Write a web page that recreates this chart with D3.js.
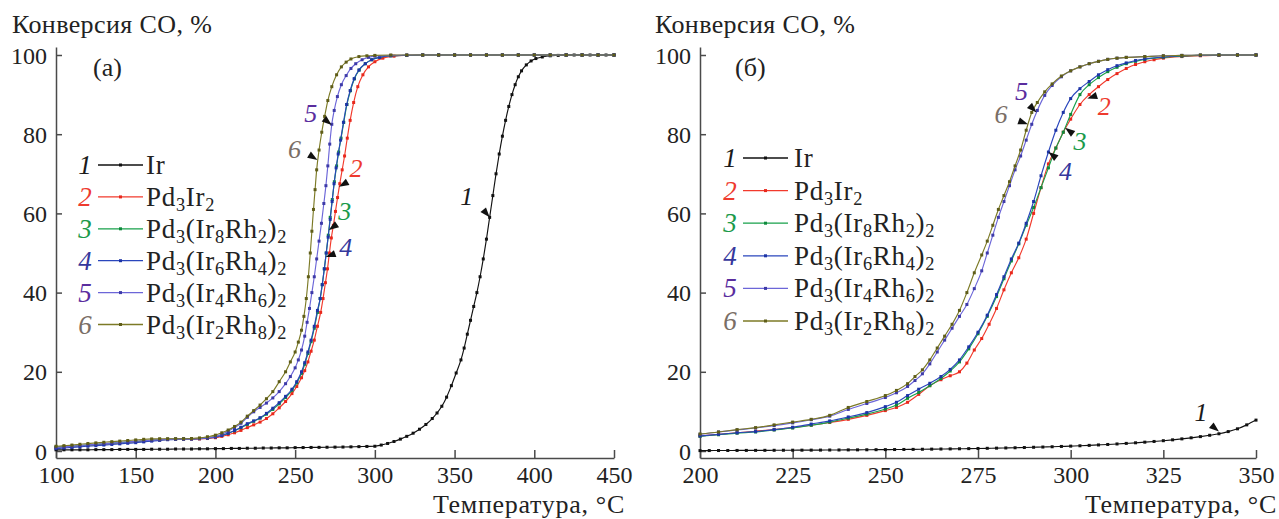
<!DOCTYPE html>
<html><head><meta charset="utf-8">
<script src="https://cdn.jsdelivr.net/npm/d3@7"></script>
<style>
body{margin:0;background:#fff}svg{display:block}
svg text{font-family:"Liberation Serif","Tinos","DejaVu Serif","Noto Serif","FreeSerif","Times New Roman",Times,serif !important;}
</style>
</head><body>
<svg id="c" width="1279" height="519"></svg>
<script>
// ---------- data ----------
const xTicksA = [100,150,200,250,300,350,400,450];
const xTicksB = [200,225,250,275,300,325,350];
const yTicks = [0,20,40,60,80,100];
const seriesNums = ["1","2","3","4","5","6"];
const legendLabels = ["Ir","Pd_3Ir_2","Pd_3(Ir_8Rh_2)_2","Pd_3(Ir_6Rh_4)_2","Pd_3(Ir_4Rh_6)_2","Pd_3(Ir_2Rh_8)_2"];
const yTitle = "Конверсия CO, %";
const xTitle = "Температура, °C";
const panelNames = ["(а)","(б)"];

// panel (a): [T, conversion %]
const a1 = [[100,0.3],[105,0.3],[110,0.3],[115,0.3],[120,0.3],[125,0.35],[130,0.35],[135,0.35],[140,0.4],[145,0.4],[150,0.4],[155,0.4],[160,0.45],[165,0.45],[170,0.45],[175,0.5],[180,0.5],[185,0.5],[190,0.55],[195,0.55],[200,0.6],[205,0.6],[210,0.65],[215,0.65],[220,0.7],[225,0.7],[230,0.75],[235,0.75],[240,0.8],[245,0.8],[250,0.85],[255,0.87],[260,0.9],[265,0.92],[270,0.95],[275,0.98],[280,1.0],[285,1.05],[290,1.1],[295,1.15],[300,1.2],[304,1.5],[308,1.9],[312,2.4],[316,3.0],[320,3.7],[324,4.5],[328,5.5],[332,6.7],[336,8.2],[339,9.6],[342,11.3],[345,13.6],[348,16.5],[351,19.7],[354,23],[356,26],[358,29.5],[360,33],[362,36.5],[364,40],[366,44],[368,48.5],[370,53.5],[372,59],[374,64.5],[376,70],[378,75],[380,79.5],[382,83.5],[384,87],[386,90],[388,92.5],[390,94.5],[392,96],[395,97.5],[398,98.5],[401,99.1],[405,99.5],[410,99.8],[415,99.9],[420,100],[425,100],[430,100],[435,100],[440,100],[445,100],[450,100]];
const a2 = [[100,0.9],[105,1.0],[110,1.15],[115,1.3],[120,1.45],[125,1.6],[130,1.75],[135,1.9],[140,2.05],[145,2.2],[150,2.35],[155,2.5],[160,2.65],[165,2.8],[170,2.9],[175,2.95],[180,3.0],[185,3.0],[190,3.05],[195,3.15],[200,3.35],[204,3.7],[208,4.1],[212,4.6],[216,5.2],[220,5.9],[224,6.6],[228,7.3],[232,8.2],[236,9.4],[240,10.9],[244,12.5],[248,14.5],[251,16.3],[254,18.5],[256,20.3],[258,22.5],[260,25.2],[262,28],[264,31.5],[266,35],[267.5,38.5],[269,42.5],[270.3,46],[271.5,50],[272.7,53.8],[274,57],[275.3,60.5],[276.6,64],[278,67.5],[279.5,71],[281,74.5],[282.7,79],[284.5,83.5],[286.7,88],[289.3,92],[292.5,95],[296,97],[300,98.3],[305,99.2],[312,99.7],[320,99.9],[330,100],[340,100],[350,100],[360,100],[370,100],[380,100],[390,100],[400,100],[410,100],[420,100],[430,100],[440,100],[450,100]];
const a3 = [[100,1.0],[105,1.1],[110,1.2],[115,1.35],[120,1.5],[125,1.65],[130,1.8],[135,1.95],[140,2.1],[145,2.25],[150,2.4],[155,2.55],[160,2.7],[165,2.85],[170,2.95],[175,3.0],[180,3.05],[185,3.1],[190,3.15],[195,3.3],[200,3.6],[204,4.0],[208,4.5],[212,5.1],[216,5.9],[220,6.7],[224,7.5],[228,8.3],[232,9.3],[236,10.5],[240,11.9],[244,13.5],[248,15.3],[251,17.2],[254,19.6],[256,21.9],[258,24.6],[260,27.6],[262,31],[264,35],[265.7,38.5],[267,42],[268.3,46],[269.5,50],[270.8,54.5],[272,59],[273.3,63.5],[274.6,68],[276,72],[277.3,75.5],[278.8,79],[280.5,83],[282.5,87.5],[284.7,91],[287.2,94],[290.2,96.2],[294,97.8],[298,98.8],[303,99.4],[310,99.8],[320,99.9],[330,100],[340,100],[350,100],[360,100],[370,100],[380,100],[390,100],[400,100],[410,100],[420,100],[430,100],[440,100],[450,100]];
const a4 = [[100,0.6],[105,0.75],[110,0.9],[115,1.05],[120,1.2],[125,1.35],[130,1.5],[135,1.65],[140,1.8],[145,1.95],[150,2.1],[155,2.3],[160,2.5],[165,2.7],[170,2.85],[175,2.95],[180,3.0],[185,3.05],[190,3.1],[195,3.25],[200,3.5],[204,3.9],[208,4.5],[212,5.2],[216,6.0],[220,6.9],[224,7.6],[228,8.4],[232,9.5],[236,10.8],[240,12.2],[244,13.8],[248,15.6],[251,17.5],[254,20],[256,22.3],[258,25],[260,28],[262,31.5],[264,35.5],[265.7,38.5],[267,42],[268.3,46],[269.5,50],[270.7,54],[272,58.5],[273.2,63],[274.4,67.5],[275.7,71.5],[277,75],[278.5,78.5],[280.3,83],[282.3,87.5],[284.5,91],[287,94],[290,96.2],[294,97.8],[298,98.8],[303,99.4],[310,99.8],[320,99.9],[330,100],[340,100],[350,100],[360,100],[370,100],[380,100],[390,100],[400,100],[410,100],[420,100],[430,100],[440,100],[450,100]];
const a5 = [[100,0.9],[105,1.05],[110,1.2],[115,1.4],[120,1.55],[125,1.7],[130,1.85],[135,2.0],[140,2.15],[145,2.3],[150,2.45],[155,2.6],[160,2.75],[165,2.85],[170,2.95],[175,3.0],[180,3.0],[185,3.05],[190,3.15],[195,3.35],[200,3.7],[204,4.2],[208,5.0],[212,5.9],[216,7.0],[220,8.5],[224,9.9],[228,11],[232,12.1],[236,13.4],[240,15],[244,17],[247,18.8],[250,21],[252,23],[254,25.5],[256,29],[257.5,32.5],[259,36],[260.5,40],[262,44],[263.5,48.5],[265,53],[266.5,57.5],[268,62.5],[269.3,67],[270.5,72],[271.7,77.5],[273,82.5],[274.5,86],[276.5,89.5],[279,92.5],[282,94.8],[285,96.6],[288,97.8],[292,98.8],[296,99.4],[300,99.7],[310,99.9],[320,100],[330,100],[340,100],[350,100],[360,100],[370,100],[380,100],[390,100],[400,100],[410,100],[420,100],[430,100],[440,100],[450,100]];
const a6 = [[100,1.2],[105,1.35],[110,1.5],[115,1.7],[120,1.9],[125,2.05],[130,2.2],[135,2.35],[140,2.5],[145,2.65],[150,2.8],[155,2.95],[160,3.05],[165,3.1],[170,3.1],[175,3.1],[180,3.1],[185,3.15],[190,3.3],[195,3.6],[200,4.0],[204,4.6],[208,5.3],[212,6.2],[216,7.3],[220,8.8],[224,10.2],[228,11.6],[232,13.2],[236,15],[240,17.5],[244,20],[247,22.5],[250,25],[252,27.5],[254,30.5],[255.5,34],[257,38.5],[258.3,44],[259.5,50],[260.5,55.5],[261.5,61],[262.5,66],[263.5,71],[265,76],[266.7,80.5],[268.5,84.5],[270.5,88.5],[273,92],[276,95],[279,97],[282,98.2],[285,99],[290,99.6],[295,99.8],[300,99.9],[310,100],[320,100],[330,100],[340,100],[350,100],[360,100],[370,100],[380,100],[390,100],[400,100],[410,100],[420,100],[430,100],[440,100],[450,100]];

// panel (б)
const b1 = [[200,0.10],[202.5,0.11],[205,0.12],[207.5,0.13],[210,0.14],[212.5,0.15],[215,0.16],[217.5,0.17],[220,0.18],[222.5,0.19],[225,0.20],[227.5,0.21],[230,0.22],[232.5,0.23],[235,0.25],[237.5,0.26],[240,0.28],[242.5,0.29],[245,0.31],[247.5,0.33],[250,0.35],[252.5,0.37],[255,0.39],[257.5,0.41],[260,0.44],[262.5,0.47],[265,0.50],[267.5,0.53],[270,0.56],[272.5,0.60],[275,0.64],[277.5,0.68],[280,0.72],[282.5,0.77],[285,0.82],[287.5,0.88],[290,0.94],[292.5,1.0],[295,1.07],[297.5,1.15],[300,1.23],[302.5,1.32],[305,1.42],[307.5,1.53],[310,1.65],[312.5,1.78],[315,1.92],[317.5,2.07],[320,2.23],[322.5,2.41],[325,2.6],[327.5,2.82],[330,3.06],[332.5,3.33],[335,3.63],[337.5,3.97],[340,4.35],[342.5,4.9],[345,5.6],[347.5,6.6],[350,7.8]];
const b2 = [[200,3.8],[205,4.2],[210,4.6],[215,5.0],[220,5.4],[225,5.9],[230,6.5],[235,7.2],[240,8.0],[245,9.0],[250,10.2],[253,11.0],[256,12.3],[259,14.3],[262,16.5],[265,18.0],[267.5,19.0],[270,20.0],[272,22.2],[274,25.5],[276,28.4],[278,32],[280,36],[282,40.7],[284,45],[286,48.8],[288,53.5],[290,60],[292,66.5],[294,72.5],[296,76.5],[298,80.5],[300,83.8],[302.5,87.5],[305,90],[307.5,92],[310,93.8],[312.5,95.3],[315,96.6],[317.5,97.6],[320,98.3],[322.5,98.8],[325,99.2],[330,99.6],[335,99.8],[340,99.9],[345,100],[350,100]];
const b3 = [[200,3.7],[205,4.1],[210,4.5],[215,4.8],[220,5.3],[225,5.8],[230,6.5],[235,7.3],[240,8.3],[245,9.3],[250,10.6],[253,11.6],[256,13.3],[259,14.8],[262,16.5],[265,18.3],[267.5,20.2],[270,22.5],[272.5,25.8],[275,29.6],[277.5,34],[280,39],[282,43.5],[284,48],[286,52.3],[288,57],[290,61.5],[292,66.5],[294,71.5],[296,76.5],[298,80.5],[300,85],[302.5,90],[305,92.5],[307.5,94.3],[310,95.8],[312.5,96.9],[315,97.8],[317.5,98.4],[320,98.9],[325,99.4],[330,99.7],[335,99.9],[340,100],[345,100],[350,100]];
const b4 = [[200,3.8],[205,4.2],[210,4.6],[215,4.9],[220,5.4],[225,6.0],[230,6.8],[235,7.6],[240,8.6],[245,9.7],[250,11.2],[253,12.3],[256,14.0],[259,15.6],[262,17.1],[265,18.8],[267.5,20.6],[270,23],[272.5,26.3],[275,30],[277.5,34.3],[280,39.5],[282,44],[284,48.5],[286,52.5],[288,57.5],[290,63],[292,69.5],[294,75.5],[296,81],[298,85.5],[300,89],[302.5,91.5],[305,93.3],[307.5,95],[310,96.3],[312.5,97.3],[315,98],[317.5,98.6],[320,99],[325,99.5],[330,99.8],[335,99.9],[340,100],[345,100],[350,100]];
const b5 = [[200,4.2],[205,4.8],[210,5.3],[215,5.8],[220,6.4],[225,7.1],[230,7.9],[235,8.8],[240,10.5],[245,12.0],[250,13.5],[253,14.7],[256,16.3],[258,17.8],[260,19.5],[262,22],[264,25],[266,28],[268,31],[270,34],[272,37],[274,41],[276,45.5],[277.5,50],[279,54.5],[280.5,59],[282,63],[283.5,67],[285,71],[286.5,74.5],[288,78.5],[289.5,82.5],[291,86],[293,89.8],[295,92.3],[297.5,94.5],[300,96],[302.5,97],[305,97.8],[307.5,98.4],[310,98.9],[312.5,99.2],[315,99.4],[320,99.6],[325,99.8],[330,99.9],[335,100],[340,100],[345,100],[350,100]];
const b6 = [[200,4.3],[205,4.8],[210,5.4],[215,5.9],[220,6.6],[225,7.3],[230,8.0],[235,9.0],[240,11.0],[245,12.5],[250,14.0],[253,15.3],[256,17.0],[258,18.8],[260,20.5],[262,23],[264,26],[266,29],[268,32],[270,35.5],[272,40],[274,45],[276,49.5],[277.5,53],[279,57],[280.5,61],[282,64.5],[283.5,68],[285,72],[286.5,76],[288,81],[289.5,85.5],[291,88],[293,90.7],[295,92.7],[297.5,94.7],[300,96],[302.5,97],[305,97.8],[307.5,98.4],[310,98.9],[312.5,99.2],[315,99.4],[320,99.6],[325,99.8],[330,99.9],[335,100],[340,100],[345,100],[350,100]];

// ---------- styles ----------
const lineColors = ["#111111","#f23a2c","#17a04a","#2a46bc","#6c66d8","#7c7a26"];
const markColors = ["#111111","#e8281c","#0f8a3c","#1d34a6","#3d3aa8","#5f5d18"];
const numColors  = ["#1a1a1a","#ee3a2e","#1b9a4a","#35379c","#5a2d9e","#7a6e66"];

const svg = d3.select("#c");
const y = d3.scaleLinear([0,100],[451,55]);
const axisY0 = 458, axisYTop = 47;

const panels = [
  {x: d3.scaleLinear([100,450],[56,614]), ticks: xTicksA, data:[a1,a2,a3,a4,a5,a6], name: panelNames[0],
   nameX: 93, titleX: 12, xTitleEnd: 625,
   legend:{num:85, l0:98, l1:143, text:146, y0:165, dy:31.9},
   ann:[ {s:0, at:[372,59], dx:-23, dy:-12, ang:50},
         {s:5, at:[264,73.5], dx:-23, dy:-2, ang:32},
         {s:4, at:[272.9,82.3], dx:-21, dy:-3, ang:40},
         {s:1, at:[277.5,66.7], dx:17, dy:-10, ang:150},
         {s:2, at:[271.1,55.8], dx:16, dy:-10, ang:145},
         {s:3, at:[269.2,49], dx:20, dy:-1, ang:160} ]},
  {x: d3.scaleLinear([200,350],[700,1256]), ticks: xTicksB, data:[b1,b2,b3,b4,b5,b6], name: panelNames[1],
   nameX: 735, titleX: 655, xTitleEnd: 1277,
   legend:{num:730, l0:743, l1:788, text:794, y0:158, dy:32.6},
   ann:[ {s:0, at:[340,4.9], dx:-18, dy:-11, ang:40},
         {s:5, at:[288.5,82.5], dx:-27, dy:-1, ang:20},
         {s:4, at:[290.8,85.5], dx:-15, dy:-12, ang:45},
         {s:1, at:[304.5,89], dx:17, dy:16, ang:162},
         {s:2, at:[298.5,81.6], dx:15, dy:22, ang:217},
         {s:3, at:[294,75.5], dx:17, dy:28, ang:218} ]}
];

function subText(sel, label, size){
  const parts = label.split(/_(\d)/);
  let shifted = false;
  const sh = 5;
  parts.forEach((p,i)=>{
    if(p==="") return;
    if(i%2===1){
      sel.append("tspan").attr("font-size", size*0.68).attr("dy", shifted?0:sh).text(p);
      shifted = true;
    } else {
      sel.append("tspan").attr("dy", shifted?-sh:0).text(p);
      shifted = false;
    }
  });
}

panels.forEach(P=>{
  const g = svg.append("g");
  const x = P.x;
  const xAx = d3.axisBottom(x).tickValues(P.ticks).tickSizeInner(-8).tickSizeOuter(0).tickPadding(8).tickFormat(d3.format("d"));
  const gx = g.append("g").attr("transform",`translate(0,${axisY0})`).call(xAx);
  const yAxScale = y.copy().domain([y.invert(axisY0), y.invert(axisYTop)]).range([axisY0, axisYTop]);
  const yAx = d3.axisLeft(yAxScale).tickValues(yTicks).tickSizeInner(-6).tickSizeOuter(0).tickPadding(9);
  const gy = g.append("g").attr("transform",`translate(${x.range()[0]},0)`).call(yAx);
  gy.selectAll("text").attr("dy","0.34em");
  [gx,gy].forEach(a=>{
    a.selectAll("path,line").attr("stroke","#4a4a4a").attr("stroke-width",1.5);
    a.selectAll("text").attr("fill","#222").style("font-size","24px");
  });
  g.append("text").attr("x",P.titleX).attr("y",33).attr("fill","#222").style("font-size","26px").style("letter-spacing","0.4px").text(yTitle);
  g.append("text").attr("x",P.xTitleEnd).attr("y",513).attr("text-anchor","end").attr("fill","#222").style("font-size","26px").style("letter-spacing","0.7px").text(xTitle);
  g.append("text").attr("x",P.nameX).attr("y",76).attr("fill","#222").style("font-size","26px").text(P.name);

  const line = d3.line().x(d=>x(d[0])).y(d=>y(d[1])).curve(d3.curveMonotoneX);
  [0,1,2,3,4,5].forEach(i=>{
    const d = P.data[i];
    g.append("path").datum(d).attr("d",line).attr("fill","none")
      .attr("stroke",lineColors[i]).attr("stroke-width",1.15);
    g.append("g").selectAll("rect").data(d).join("rect")
      .attr("x",p=>x(p[0])-1.5).attr("y",p=>y(p[1])-1.5).attr("width",3).attr("height",3)
      .attr("fill",markColors[i]);
  });

  P.ann.forEach(a=>{
    const tx = x(a.at[0]), ty = y(a.at[1]);
    g.append("path").attr("d","M0,0L-10,-3.6L-10,3.6Z").attr("fill","#111")
      .attr("transform",`translate(${tx},${ty}) rotate(${a.ang})`);
    g.append("text").attr("x",tx+a.dx).attr("y",ty+a.dy).attr("text-anchor","middle")
      .attr("fill",numColors[a.s]).style("font-size","26px").style("font-style","italic").text(seriesNums[a.s]);
  });

  const L = P.legend;
  seriesNums.forEach((n,i)=>{
    const ly = L.y0 + i*L.dy;
    g.append("text").attr("x",L.num).attr("y",ly+9).attr("text-anchor","middle")
      .attr("fill",numColors[i]).style("font-size","27px").style("font-style","italic").text(n);
    g.append("line").attr("x1",L.l0).attr("x2",L.l1).attr("y1",ly).attr("y2",ly)
      .attr("stroke",lineColors[i]).attr("stroke-width",1.3);
    g.append("rect").attr("x",(L.l0+L.l1)/2-1.5).attr("y",ly-1.5).attr("width",3).attr("height",3).attr("fill",markColors[i]);
    const t = g.append("text").attr("x",L.text).attr("y",ly+9).attr("fill","#222").style("font-size","27px").style("letter-spacing","0.7px");
    subText(t, legendLabels[i], 27);
  });
});
</script>
</body></html>
